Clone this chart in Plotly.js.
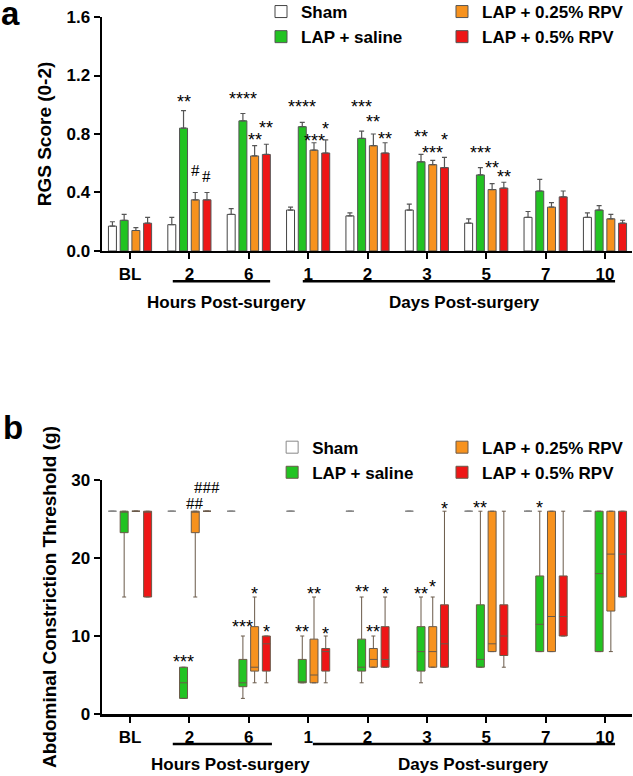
<!DOCTYPE html>
<html>
<head>
<meta charset="utf-8">
<script src="https://cdn.plot.ly/plotly-3.0.1.min.js"></script>
<style>
  body { margin: 0; background: #fff; }
  #chart { width: 633px; height: 776px; }
</style>
</head>
<body>
<div id="chart"></div>
<script>
// time points (same for both panels)
var timeLabels = ["BL", "2", "6", "1", "2", "3", "5", "7", "10"];
var timeIdx = [0, 1, 2, 3, 4, 5, 6, 7, 8];

var groupNames = ["Sham", "LAP + saline", "LAP + 0.25% RPV", "LAP + 0.5% RPV"];
var fillColors = ["#ffffff", "#22c322", "#f7921e", "#ee1616"];

// panel a : RGS score, mean and SEM
var rgsSham     = [0.17, 0.18, 0.25, 0.28, 0.24, 0.28, 0.19, 0.23, 0.23];
var rgsShamSem  = [0.03, 0.05, 0.04, 0.02, 0.02, 0.04, 0.03, 0.04, 0.03];
var rgsSaline   = [0.21, 0.84, 0.89, 0.85, 0.77, 0.61, 0.52, 0.41, 0.28];
var rgsSalineSem= [0.04, 0.12, 0.05, 0.03, 0.05, 0.05, 0.05, 0.08, 0.03];
var rgsLow      = [0.14, 0.35, 0.65, 0.69, 0.72, 0.59, 0.42, 0.30, 0.22];
var rgsLowSem   = [0.02, 0.05, 0.07, 0.05, 0.08, 0.03, 0.04, 0.03, 0.03];
var rgsHigh     = [0.19, 0.35, 0.66, 0.67, 0.67, 0.57, 0.43, 0.37, 0.19];
var rgsHighSem  = [0.04, 0.05, 0.07, 0.09, 0.07, 0.07, 0.04, 0.04, 0.02];

// panel b : abdominal constriction threshold (g), box stats
// order of each row: lower fence, q1, median, q3, upper fence
var actSham = [
  [26,26,26,26,26],[26,26,26,26,26],[26,26,26,26,26],[26,26,26,26,26],[26,26,26,26,26],
  [26,26,26,26,26],[26,26,26,26,26],[26,26,26,26,26],[26,26,26,26,26]
];
var actSaline = [
  [15,23.25,26,26,26],[2,2,4,6,6],[2,3.5,4,7,10],[4,4,4,7,10],[4,5.5,6,9.6,15],
  [4,5.5,8,11.2,15],[6,6,7,14,26],[8,8,11.5,17.7,26],[8,8,18,26,26]
];
var actLow = [
  [26,26,26,26,26],[15,23.25,26,26,26],[4,5.5,6,11.2,15],[4,4,5,9.6,15],[6,6,7,8.4,10],
  [6,6,8,11.2,15],[8,8,9,26,26],[8,8,12.5,26,26],[8,13.2,20.5,26,26]
];
var actHigh = [
  [15,15,26,26,26],[26,26,26,26,26],[4,5.5,9,10,10],[4,5.5,8,8.4,10],[6,6,7,11.2,15],
  [6,6,9,14,26],[6,7.5,10,14,26],[10,10,12.5,17.7,26],[15,15,20.5,26,26]
];

// significance marks: [time index, group index, text, y]
var rgsMarks = [
  [1,1,"**",1.056],[1,2,"#",0.553],[1,3,"#",0.507],
  [2,1,"****",1.072],[2,2,"**",0.793],[2,3,"**",0.878],
  [3,1,"****",1.02],[3,2,"***",0.789],[3,3,"*",0.869],
  [4,1,"***",1.02],[4,2,"**",0.914],[4,3,"**",0.798],
  [5,1,"**",0.811],[5,2,"***",0.706],[5,3,"*",0.793],
  [6,1,"***",0.706],[6,2,"**",0.603],[6,3,"**",0.542]
];
var actMarks = [
  [1,1,"***",7.3],[1,2,"##",27.0],[1,3,"###",29.1],
  [2,1,"***",11.8],[2,2,"*",16.0],[2,3,"*",11.2],
  [3,1,"**",11.2],[3,2,"**",16.0],[3,3,"*",10.9],
  [4,1,"**",16.3],[4,2,"**",11.2],[4,3,"*",16.0],
  [5,1,"**",16.0],[5,2,"*",16.9],[5,3,"*",26.9],
  [6,1,"**",27.0],[7,1,"*",27.0]
];

var FONT = "Liberation Sans, Arial, sans-serif";
var GAP = 0.21;
var SLOT = (1 - GAP) / 4;

var rgsMeans = [rgsSham, rgsSaline, rgsLow, rgsHigh];
var rgsSems = [rgsShamSem, rgsSalineSem, rgsLowSem, rgsHighSem];
var actStats = [actSham, actSaline, actLow, actHigh];
var legendIds = [["legend", "legend3"], ["legend", "legend3"], ["legend2", "legend4"], ["legend2", "legend4"]];

var data = [];
groupNames.forEach(function (name, g) {
  data.push({
    type: "bar", name: name, x: timeIdx, y: rgsMeans[g],
    xaxis: "x", yaxis: "y", legend: legendIds[g][0],
    marker: { color: fillColors[g], line: { color: g == 0 ? "#444" : "#555", width: 1 } },
    error_y: { type: "data", symmetric: false, array: rgsSems[g],
               arrayminus: rgsSems[g].map(function () { return 0; }),
               color: "#555", thickness: 1.2, width: 2.5 },
    hoverinfo: "skip"
  });
});
groupNames.forEach(function (name, g) {
  var st = actStats[g];
  data.push({
    type: "box", name: name, x: timeIdx,
    lowerfence: st.map(function (r) { return r[0]; }),
    q1: st.map(function (r) { return r[1]; }),
    median: st.map(function (r) { return r[2]; }),
    q3: st.map(function (r) { return r[3]; }),
    upperfence: st.map(function (r) { return r[4]; }),
    xaxis: "x2", yaxis: "y2", legend: legendIds[g][1],
    fillcolor: fillColors[g],
    line: { color: g == 0 ? "#888" : "#6a5a4a", width: 1 },
    whiskerwidth: 0.5, boxpoints: false, hoverinfo: "skip"
  });
});

function marks(list, xa, ya) {
  return list.map(function (m) {
    var hash = m[2].charAt(0) == "#";
    return {
      xref: xa, yref: ya, x: m[0] + (m[1] - 1.5) * SLOT, y: m[3], text: m[2],
      showarrow: false, xanchor: "center", yanchor: "middle", yshift: hash ? 0 : -5,
      font: hash ? { family: "Liberation Serif, serif", size: 17, color: "#000" }
                 : { family: FONT, size: 18, color: "#000" }
    };
  });
}

function label(xa, text, x, y) {
  return { xref: xa, yref: "paper", x: x, y: y, text: text, showarrow: false,
           xanchor: "center", yanchor: "middle",
           font: { family: FONT, size: 17, color: "#000", weight: "bold" } };
}
function panelLetter(text, x, y) {
  return { xref: "paper", yref: "paper", x: x, y: y, text: text, showarrow: false,
           xanchor: "center", yanchor: "middle",
           font: { family: FONT, size: 33, color: "#000", weight: "bold" } };
}

var annotations = []
  .concat(marks(rgsMarks, "x", "y"))
  .concat(marks(actMarks, "x2", "y2"))
  .concat([
    label("x", "Hours Post-surgery", 1.63, 0.591),
    label("x", "Days Post-surgery", 5.63, 0.591),
    label("x2", "Hours Post-surgery", 1.70, -0.073),
    label("x2", "Days Post-surgery", 5.79, -0.073),
    panelLetter("a", -0.172, 1.005),
    panelLetter("b", -0.168, 0.411)
  ]);

function bracket(xa, x0, x1, y) {
  return { type: "line", xref: xa, yref: "paper", x0: x0, x1: x1, y0: y, y1: y,
           line: { color: "#000", width: 2.5 } };
}
var shapes = [
  bracket("x", 0.72, 2.36, 0.621), bracket("x", 2.91, 8.17, 0.621),
  bracket("x2", 0.72, 2.39, -0.043), bracket("x2", 3.08, 8.17, -0.043)
];

var tickFont = { family: FONT, size: 17, color: "#000", weight: "bold" };
function xAxis(anchor) {
  return { anchor: anchor, range: [-0.472, 8.455], tickvals: timeIdx, ticktext: timeLabels,
           showline: true, linecolor: "#000", linewidth: 2.5, ticks: "outside", ticklen: 6,
           tickwidth: 2, tickcolor: "#000", showgrid: false, zeroline: false, tickfont: tickFont,
           fixedrange: true };
}
function yAxis(domain, range, tickvals, fmt, title) {
  return { domain: domain, range: range, tickvals: tickvals, tickformat: fmt,
           showline: true, linecolor: "#000", linewidth: 2.5, ticks: "outside", ticklen: 6,
           tickwidth: 2, tickcolor: "#000", showgrid: false, zeroline: false, tickfont: tickFont,
           title: { text: title, font: { family: FONT, size: 19, color: "#000", weight: "bold" }, standoff: 10 },
           fixedrange: true };
}

function legendAt(x, y) {
  return { x: x, y: y, xanchor: "left", yanchor: "top", bgcolor: "rgba(0,0,0,0)",
           font: { family: FONT, size: 17, color: "#000", weight: "bold" }, itemwidth: 30 };
}

var layout = {
  width: 633, height: 776,
  margin: { l: 102, r: 1, t: 17, b: 62, autoexpand: false },
  paper_bgcolor: "#fff", plot_bgcolor: "#fff",
  barmode: "group", bargap: GAP, bargroupgap: 0.32,
  boxmode: "group", boxgap: GAP, boxgroupgap: 0.32,
  xaxis: xAxis("y"),
  xaxis2: xAxis("y2"),
  yaxis: yAxis([0.6643, 1], [0, 1.6], [0, 0.4, 0.8, 1.2, 1.6], ".1f", "RGS Score (0-2)"),
  yaxis2: yAxis([0, 0.3357], [0, 30], [0, 10, 20, 30], "d", "Abdominal Constriction Threshold (g)"),
  legend: legendAt(0.30, 1.033),
  legend2: legendAt(0.6415, 1.033),
  legend3: legendAt(0.321, 0.408),
  legend4: legendAt(0.6415, 0.408),
  annotations: annotations,
  shapes: shapes
};

Plotly.newPlot("chart", data, layout, { staticPlot: true, displayModeBar: false });
</script>
</body>
</html>
